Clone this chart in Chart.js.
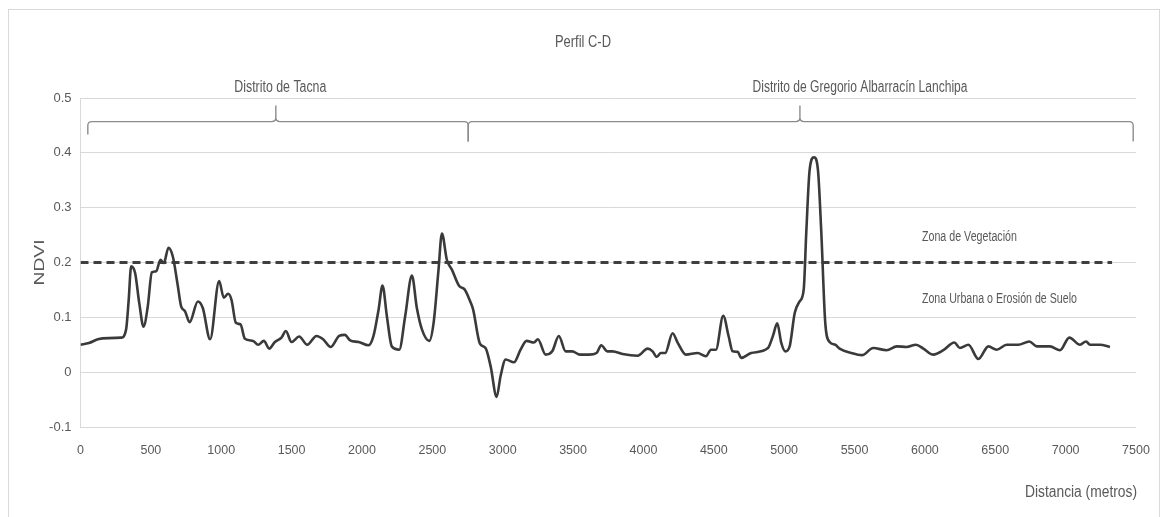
<!DOCTYPE html>
<html lang="es">
<head>
<meta charset="utf-8">
<title>Perfil C-D</title>
<script src="https://cdn.jsdelivr.net/npm/chart.js@4/dist/chart.umd.min.js"></script>
<style>
  html, body { margin: 0; padding: 0; background: #ffffff; }
  canvas { display: block; }
</style>
</head>
<body>
<canvas id="perfil" width="1162" height="517"></canvas>
<script>
// Perfil NDVI a lo largo del transecto C-D (distancia en metros)
const distancia = [
  0, 60, 123, 200, 289, 324, 342, 360, 388, 418, 448, 478, 507, 538, 568, 592, 625, 656, 690,
  715, 743, 775, 834, 869, 921, 985, 1018, 1049, 1073, 1104, 1137, 1168, 1227, 1262, 1303,
  1341, 1381, 1428, 1459, 1499, 1554, 1611, 1677, 1724, 1777, 1838, 1878, 1916, 1976, 2047,
  2082, 2118, 2146, 2177, 2212, 2265, 2307, 2355, 2390, 2426, 2478, 2509, 2544, 2568, 2603,
  2639, 2691, 2729, 2769, 2790, 2838, 2878, 2914, 2957, 2985, 3021, 3080, 3127, 3170, 3222,
  3250, 3305, 3352, 3399, 3447, 3494, 3549, 3613, 3667, 3700, 3743, 3781, 3852, 3959, 4030,
  4065, 4094, 4124, 4155, 4207, 4243, 4302, 4385, 4444, 4480, 4515, 4567, 4605, 4634, 4670,
  4695, 4766, 4885, 4920, 4951, 4979, 5008, 5039, 5075, 5110, 5139, 5157, 5181, 5212, 5240,
  5264, 5292, 5323, 5363, 5394, 5477, 5553, 5633, 5728, 5800, 5871, 5937, 5989, 6060, 6131,
  6209, 6249, 6309, 6380, 6451, 6510, 6581, 6664, 6742, 6795, 6889, 6960, 7026, 7102, 7145,
  7173, 7244, 7315
];
const ndvi = [
  0.050, 0.053, 0.060, 0.062, 0.063, 0.078, 0.130, 0.193, 0.181, 0.125, 0.083, 0.120, 0.182,
  0.184, 0.205, 0.199, 0.227, 0.211, 0.160, 0.120, 0.111, 0.091, 0.129, 0.117, 0.060, 0.166,
  0.136, 0.143, 0.132, 0.090, 0.087, 0.061, 0.057, 0.050, 0.057, 0.043, 0.055, 0.063, 0.075,
  0.055, 0.065, 0.050, 0.066, 0.060, 0.046, 0.066, 0.068, 0.058, 0.055, 0.049, 0.066, 0.114,
  0.158, 0.102, 0.047, 0.041, 0.102, 0.176, 0.117, 0.078, 0.057, 0.090, 0.187, 0.253, 0.205,
  0.187, 0.157, 0.151, 0.129, 0.114, 0.052, 0.044, 0.011, -0.045, -0.007, 0.023, 0.018, 0.041,
  0.057, 0.054, 0.060, 0.032, 0.038, 0.066, 0.038, 0.038, 0.032, 0.032, 0.035, 0.049, 0.038,
  0.038, 0.033, 0.030, 0.043, 0.038, 0.028, 0.035, 0.035, 0.071, 0.054, 0.032, 0.035, 0.029,
  0.041, 0.041, 0.103, 0.066, 0.038, 0.037, 0.026, 0.035, 0.044, 0.066, 0.089, 0.054, 0.038,
  0.047, 0.108, 0.129, 0.151, 0.254, 0.369, 0.392, 0.369, 0.254, 0.090, 0.055, 0.050, 0.043,
  0.035, 0.031, 0.044, 0.040, 0.047, 0.046, 0.050, 0.043, 0.032, 0.040, 0.054, 0.044, 0.050,
  0.024, 0.047, 0.041, 0.050, 0.050, 0.056, 0.047, 0.047, 0.040, 0.063, 0.050, 0.056, 0.050,
  0.050, 0.046
];

// Umbral que separa la zona de vegetación de la zona urbana
const umbralVegetacion = 0.2;
const umbralDesde = 0;
const umbralHasta = 7330;

// Ejes
const xTickValues = [0, 500, 1000, 1500, 2000, 2500, 3000, 3500, 4000, 4500, 5000, 5500, 6000, 6500, 7000, 7500];
const xTickLabels = ['0', '500', '1000', '1500', '2000', '2500', '3000', '3500', '4000', '4500', '5000', '5500', '6000', '6500', '7000', '7500'];
const yTickValues = [-0.1, 0, 0.1, 0.2, 0.3, 0.4, 0.5];
const yTickLabels = ['-0.1', '0', '0.1', '0.2', '0.3', '0.4', '0.5'];

// Distritos recorridos por el perfil (metros)
const distritos = ['Distrito de Tacna', 'Distrito de Gregorio Albarracín Lanchipa'];
const distritoInicio = [52, 2755];
const distritoFin = [2755, 7480];
const distritoMarca = [1388, 5112];
const distritoEtiqueta = [1420, 5539];

// Rótulos de zonas
const zonas = ['Zona de Vegetación', 'Zona Urbana o Erosión de Suelo'];
const zonaX = [5979, 5979];
const zonaY = [0.247, 0.134];

const FONT = '"Liberation Sans", Arial, sans-serif';
const TEXT = '#595959';

// Texto estrecho: se comprime en horizontal hasta el ancho indicado
function textoEstrecho(ctx, str, x, y, size, ancho, align, angulo) {
  ctx.save();
  ctx.font = size + 'px ' + FONT;
  const w = ctx.measureText(str).width;
  ctx.translate(x, y);
  if (angulo) ctx.rotate(angulo);
  ctx.scale(ancho / w, 1);
  ctx.textAlign = align;
  ctx.textBaseline = 'middle';
  ctx.fillStyle = TEXT;
  ctx.fillText(str, 0, 0);
  ctx.restore();
}

const decoraciones = {
  id: 'decoraciones',
  beforeDraw(chart) {
    const ctx = chart.ctx;
    ctx.save();
    ctx.fillStyle = '#ffffff';
    ctx.fillRect(0, 0, chart.width, chart.height);
    ctx.strokeStyle = '#d9d9d9';
    ctx.lineWidth = 1;
    ctx.strokeRect(8.5, 9.5, 1151, 520);
    ctx.restore();
  },
  afterDraw(chart) {
    const ctx = chart.ctx;
    const xs = chart.scales.x, ys = chart.scales.y;
    const area = chart.chartArea;

    // Título
    textoEstrecho(ctx, 'Perfil C-D', chart.width / 2 + 2, 42, 17, 56, 'center');

    // Títulos de ejes
    textoEstrecho(ctx, 'NDVI', 40, (area.top + area.bottom) / 2, 14, 46, 'center', -Math.PI / 2);
    textoEstrecho(ctx, 'Distancia (metros)', area.right + 1, 493, 16, 112, 'right');

    // Llaves de distritos
    ctx.save();
    const yLlave = ys.getPixelForValue(0.457);
    ctx.strokeStyle = '#8c8c8c';
    ctx.lineWidth = 1.4;
    const r = 4;
    distritos.forEach((nombre, i) => {
      const x0 = xs.getPixelForValue(distritoInicio[i]);
      const x1 = xs.getPixelForValue(distritoFin[i]);
      const xm = xs.getPixelForValue(distritoMarca[i]);
      const bajaIzq = i === 0 ? 13 : 20;
      const bajaDer = 20;
      ctx.beginPath();
      ctx.moveTo(x0, yLlave + bajaIzq);
      ctx.lineTo(x0, yLlave + r);
      ctx.quadraticCurveTo(x0, yLlave, x0 + r, yLlave);
      ctx.lineTo(xm - r, yLlave);
      ctx.quadraticCurveTo(xm, yLlave, xm, yLlave - r);
      ctx.lineTo(xm, yLlave - 16);
      ctx.moveTo(xm, yLlave - r);
      ctx.quadraticCurveTo(xm, yLlave, xm + r, yLlave);
      ctx.lineTo(x1 - r, yLlave);
      ctx.quadraticCurveTo(x1, yLlave, x1, yLlave + r);
      ctx.lineTo(x1, yLlave + bajaDer);
      ctx.stroke();
    });
    ctx.restore();
    textoEstrecho(ctx, distritos[0], xs.getPixelForValue(distritoEtiqueta[0]), 88, 16, 92, 'center');
    textoEstrecho(ctx, distritos[1], xs.getPixelForValue(distritoEtiqueta[1]), 88, 16, 215, 'center');

    // Rótulos de zonas
    textoEstrecho(ctx, zonas[0], xs.getPixelForValue(zonaX[0]), ys.getPixelForValue(zonaY[0]), 14, 95, 'left');
    textoEstrecho(ctx, zonas[1], xs.getPixelForValue(zonaX[1]), ys.getPixelForValue(zonaY[1]), 14, 155, 'left');
  }
};

new Chart(document.getElementById('perfil'), {
  type: 'line',
  data: {
    datasets: [
      {
        label: 'NDVI',
        data: distancia.map((d, i) => ({ x: d, y: ndvi[i] })),
        borderColor: '#3a3a3a',
        borderWidth: 2.6,
        pointRadius: 0,
        cubicInterpolationMode: 'monotone',
        fill: false,
        order: 1
      },
      {
        label: 'Umbral',
        data: [{ x: umbralDesde, y: umbralVegetacion }, { x: umbralHasta, y: umbralVegetacion }],
        borderColor: '#3f3f3f',
        borderWidth: 3,
        borderDash: [8, 5],
        pointRadius: 0,
        fill: false,
        order: 2
      }
    ]
  },
  options: {
    responsive: false,
    animation: false,
    events: [],
    layout: { padding: { top: 98, right: 26, left: 0, bottom: 0 } },
    plugins: {
      legend: { display: false },
      tooltip: { enabled: false },
      title: { display: false }
    },
    scales: {
      x: {
        type: 'linear',
        min: 0,
        max: 7500,
        grid: { display: false, drawTicks: false },
        border: { display: false },
        afterBuildTicks: (s) => { s.ticks = xTickValues.map(v => ({ value: v })); },
        afterFit: (s) => { s.height = 90; s.paddingLeft = 0; s.paddingRight = 0; },
        ticks: {
          padding: 16,
          color: TEXT,
          font: { family: FONT, size: 12.5 },
          maxRotation: 0,
          autoSkip: false,
          callback: (v, i) => xTickLabels[i]
        }
      },
      y: {
        type: 'linear',
        min: -0.1,
        max: 0.5,
        grid: { color: '#d9d9d9', lineWidth: 1, drawTicks: false },
        border: { display: true, color: '#d9d9d9', width: 1 },
        afterBuildTicks: (s) => { s.ticks = yTickValues.map(v => ({ value: v })); },
        afterFit: (s) => { s.width = 80.5; },
        ticks: {
          padding: 9,
          color: TEXT,
          font: { family: FONT, size: 13 },
          autoSkip: false,
          callback: (v, i) => yTickLabels[i]
        }
      }
    }
  },
  plugins: [decoraciones]
});
</script>
</body>
</html>
